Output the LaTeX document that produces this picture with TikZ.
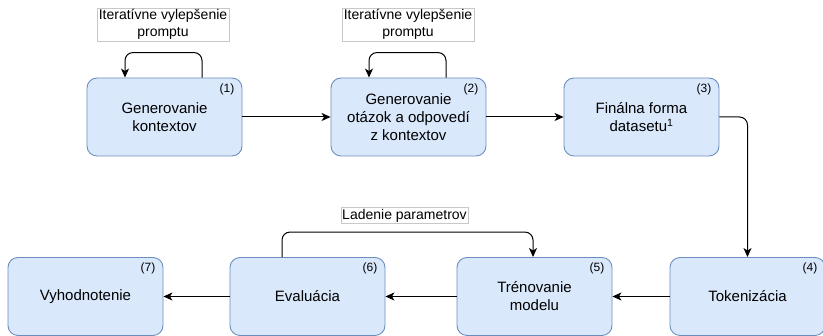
\documentclass[tikz,border=0pt]{standalone}
\usepackage{fontspec}
\setmainfont{Liberation Sans}
\usepackage{tikz}
\usetikzlibrary{positioning,arrows.meta}

\definecolor{boxfill}{HTML}{DAE8FC}
\definecolor{boxline}{HTML}{6C8EBF}
\definecolor{notegray}{HTML}{C8C8C8}

\begin{document}
\begin{tikzpicture}[x=1pt, y=1pt,
    stepbox/.style={draw=boxline, fill=boxfill, line width=0.9pt, rounded corners=10pt,
        minimum width=155pt, minimum height=78pt, align=center,
        font=\fontsize{15}{18}\selectfont},
    num/.style={font=\fontsize{12}{14}\selectfont, inner sep=0pt},
    note/.style={draw=notegray, line width=0.5pt, align=center, inner sep=1pt,
        font=\fontsize{14}{17}\selectfont},
    arr/.style={-{Stealth[length=9pt, width=8pt, inset=2.5pt]}, line width=1pt}]
    \useasboundingbox (0,0) rectangle (823,336);
    % top row
    \node[stepbox] (ctx) at (164.5,219) {Generovanie\\kontextov};
    \node[stepbox] (qa) at (408.5,219) {Generovanie\\otázok a odpovedí\\z kontextov};
    \node[stepbox] (fin) at (641.5,219) {Finálna forma\\datasetu\textsuperscript{1}};
    % bottom row
    \node[stepbox] (tok) at (747.5,39.5) {Tokenizácia};
    \node[stepbox] (train) at (534.5,39.5) {Trénovanie\\modelu};
    \node[stepbox] (eval) at (307.5,39.5) {Evaluácia};
    \node[stepbox] (res) at (85.5,39.5) {Vyhodnotenie};
    % step numbers
    \node[num, anchor=north east] at ([xshift=-8pt, yshift=-6pt]ctx.north east) {(1)};
    \node[num, anchor=north east] at ([xshift=-8pt, yshift=-6pt]qa.north east) {(2)};
    \node[num, anchor=north east] at ([xshift=-8pt, yshift=-6pt]fin.north east) {(3)};
    \node[num, anchor=north east] at ([xshift=-8pt, yshift=-6pt]tok.north east) {(4)};
    \node[num, anchor=north east] at ([xshift=-8pt, yshift=-6pt]train.north east) {(5)};
    \node[num, anchor=north east] at ([xshift=-8pt, yshift=-6pt]eval.north east) {(6)};
    \node[num, anchor=north east] at ([xshift=-8pt, yshift=-6pt]res.north east) {(7)};
    % notes
    \node[note, minimum width=132pt, minimum height=33pt] (n1) at (163,311.5) {Iteratívne vylepšenie\\promptu};
    \node[note, minimum width=132pt, minimum height=33pt] (n2) at (408,311.5) {Iteratívne vylepšenie\\promptu};
    \node[note, minimum width=125pt, minimum height=16pt] (n3) at (404.5,120.5) {Ladenie parametrov};
    % flow
    \draw[arr] (ctx) -- (qa);
    \draw[arr] (qa) -- (fin);
    \draw[arr, rounded corners=8pt] (fin.east) -| (tok.north);
    \draw[arr] (tok) -- (train);
    \draw[arr] (train) -- (eval);
    \draw[arr] (eval) -- (res);
    % loops
    \draw[arr, rounded corners=8pt] ([xshift=37.5pt]ctx.north) -- ++(0,25) -| ([xshift=-39.5pt]ctx.north);
    \draw[arr, rounded corners=8pt] ([xshift=37.5pt]qa.north) -- ++(0,25) -| ([xshift=-39.5pt]qa.north);
    \draw[arr, rounded corners=8pt] ([xshift=-25.5pt]eval.north) -- ++(0,25) -| ([xshift=-1.5pt]train.north);
\end{tikzpicture}
\end{document}
